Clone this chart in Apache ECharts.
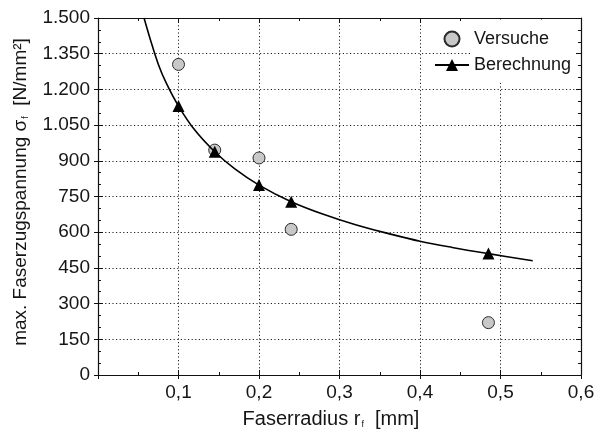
<!DOCTYPE html>
<html>
<head>
<meta charset="utf-8">
<script src="https://cdn.jsdelivr.net/npm/echarts@6/dist/echarts.min.js"></script>
<style>
html,body{margin:0;padding:0;background:#fff;}
#chart{width:595px;height:432px;}
</style>
</head>
<body>
<div id="chart"></div>
<script>
// ---- data ----
var expR = [0.1, 0.145, 0.2, 0.24, 0.485];          // Versuche: fibre radius [mm]
var expS = [1305, 945, 912, 612, 220];              // Versuche: max. stress [N/mm²]
var calcR = [0.1, 0.145, 0.2, 0.24, 0.485];         // Berechnung markers
var calcS = [1130, 938, 798, 728, 510];
var curveR = [0.0572, 0.065, 0.075, 0.085, 0.12, 0.17, 0.28, 0.32, 0.36, 0.4, 0.44, 0.54]; // curve (read)
var curveS = [1500, 1410, 1305, 1225, 1030, 866, 675, 631, 595, 562, 536, 480];
var xTicks = [0, 0.1, 0.2, 0.3, 0.4, 0.5, 0.6];
var yTicks = [0, 150, 300, 450, 600, 750, 900, 1050, 1200, 1350, 1500];

var FONT = 'Liberation Sans, Arial, Helvetica, sans-serif';
var TXT = '#151515';
var FS = 19;     // tick labels
var FN = 20;     // x axis name
var FNY = 19;    // y axis name
var FL = 18;     // legend

// build curve series data (curve points + marker points, sorted)
var lineData = [];
curveR.forEach(function (r, i) { lineData.push({ value: [r, curveS[i]], symbol: 'none' }); });
calcR.forEach(function (r, i) { lineData.push({ value: [r, calcS[i]] }); });
lineData.sort(function (a, b) { return a.value[0] - b.value[0]; });

var expData = expR.map(function (r, i) { return [r, expS[i]]; });

function fmtY(v) {
  if (v >= 1000) { var r = String(v % 1000); while (r.length < 3) r = '0' + r; return Math.floor(v / 1000) + '.' + r; }
  return String(v);
}
function fmtX(v) { return v === 0 ? '' : v.toFixed(1).replace('.', ','); }

var dotted = { color: '#222', width: 1, type: [1.2, 2.4] };
var axisLineStyle = { color: '#111', width: 1.2 };

var xMin = xTicks[0], xMax = xTicks[xTicks.length - 1], xInt = xTicks[1] - xTicks[0];
var yMin = yTicks[0], yMax = yTicks[yTicks.length - 1], yInt = yTicks[1] - yTicks[0];

function xAx(extra) {
  return Object.assign({
    type: 'value', min: xMin, max: xMax, interval: xInt, gridIndex: 0,
    axisLine: { show: true, lineStyle: axisLineStyle, onZero: false },
    axisTick: { show: true, inside: true, length: 5, lineStyle: { color: '#111', width: 1 } },
    minorTick: { show: true, splitNumber: 2, length: 3, lineStyle: { color: '#111', width: 1 } },
    axisLabel: { show: false },
    splitLine: { show: false }
  }, extra);
}
function yAx(extra) {
  return Object.assign({
    type: 'value', min: yMin, max: yMax, interval: yInt, gridIndex: 0,
    axisLine: { show: true, lineStyle: axisLineStyle, onZero: false },
    axisTick: { show: true, inside: true, length: 5, lineStyle: { color: '#111', width: 1 } },
    minorTick: { show: true, splitNumber: 3, length: 3, lineStyle: { color: '#111', width: 1 } },
    axisLabel: { show: false },
    splitLine: { show: false }
  }, extra);
}

var option = {
  animation: false,
  backgroundColor: '#fff',
  textStyle: { fontFamily: FONT, color: TXT },
  grid: { left: 98, right: 14, top: 18, bottom: 57, containLabel: false, outerBoundsMode: 'none' },
  xAxis: [
    xAx({
      position: 'bottom',
      axisLabel: { show: true, formatter: fmtX, fontSize: FS, color: TXT, fontFamily: FONT, margin: 8 },
      splitLine: { show: true, lineStyle: dotted },
      name: 'Faserradius r{sub|f}  [mm]',
      nameLocation: 'middle', nameGap: 34,
      nameTextStyle: {
        fontSize: FN, color: TXT, fontFamily: FONT, padding: [0, 17, 0, 0],
        rich: { sub: { fontSize: 9, fontFamily: FONT, color: TXT, verticalAlign: 'bottom', padding: [9, 0, 0, 1] } }
      }
    }),
    xAx({ position: 'top' }),
    xAx({ position: 'bottom', axisLine: { show: false }, axisTick: { show: true, inside: false, length: 4, lineStyle: { color: '#111', width: 1 } }, minorTick: { show: false } })
  ],
  yAxis: [
    yAx({
      position: 'left',
      axisLabel: { show: true, formatter: fmtY, fontSize: FS, color: TXT, fontFamily: FONT, margin: 8 },
      splitLine: { show: true, lineStyle: dotted },
      name: 'max. Faserzugspannung σ{sub|f}  [N/mm²]',
      nameLocation: 'middle', nameGap: 68, nameRotate: 90,
      nameTextStyle: {
        fontSize: FNY, color: TXT, fontFamily: FONT, padding: [0, 0, 0, 9],
        rich: { sub: { fontSize: 9, fontFamily: FONT, color: TXT, verticalAlign: 'bottom', padding: [9, 0, 0, 1] } }
      }
    }),
    yAx({ position: 'right' }),
    yAx({ position: 'left', axisLine: { show: false }, axisTick: { show: true, inside: false, length: 4, lineStyle: { color: '#111', width: 1 } }, minorTick: { show: false } })
  ],
  legend: {
    orient: 'vertical', left: 434, top: 30, padding: 0, itemGap: 8,
    itemWidth: 34, itemHeight: 15, itemTextGap: 7,
    textStyle: { fontSize: FL, color: TXT, fontFamily: FONT, lineHeight: 18 },
    data: [
      { name: 'Versuche', icon: 'circle' },
      { name: 'Berechnung' }
    ]
  },
  graphic: [{
    type: 'rect', z: 1, silent: true,
    shape: { x: 470, y: 19.5, width: 105, height: 63 },
    style: { fill: '#fff' }
  }],
  series: [
    {
      name: 'Berechnung', type: 'line', xAxisIndex: 0, yAxisIndex: 0,
      data: lineData, smooth: 0.35, symbol: 'triangle', symbolSize: 12,
      showAllSymbol: true,
      lineStyle: { color: '#000', width: 1.6 },
      itemStyle: { color: '#000', borderColor: '#000', borderWidth: 0 },
      z: 3
    },
    {
      name: 'Versuche', type: 'scatter', xAxisIndex: 0, yAxisIndex: 0,
      data: expData, symbol: 'circle', symbolSize: 12,
      itemStyle: { color: '#c8c8c8', borderColor: '#2a2a2a', borderWidth: 1, opacity: 1 },
      z: 2
    }
  ]
};

var chart = echarts.init(document.getElementById('chart'), null, { renderer: 'canvas' });
chart.setOption(option);
</script>
</body>
</html>
